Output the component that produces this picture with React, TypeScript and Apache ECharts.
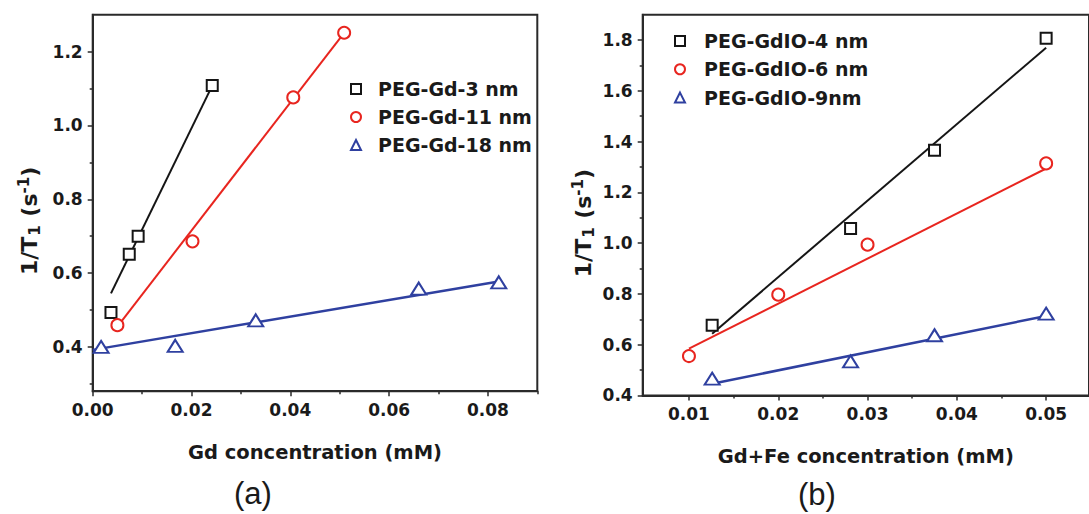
import React, { useEffect, useRef } from 'react';
import * as echarts from 'echarts';

// ---------- Panel (a) data ----------
const aNames = ['PEG-Gd-3 nm', 'PEG-Gd-11 nm', 'PEG-Gd-18 nm'];
const a3nmX = [0.0037, 0.0074, 0.0092, 0.0242];
const a3nmY = [0.493, 0.651, 0.7, 1.108];
const a11nmX = [0.005, 0.0202, 0.0406, 0.0509];
const a11nmY = [0.459, 0.686, 1.076, 1.251];
const a18nmX = [0.0017, 0.0167, 0.033, 0.066, 0.0822];
const a18nmY = [0.4, 0.403, 0.472, 0.558, 0.575];
const a3nmFitX = [0.0037, 0.0242];
const a3nmFitY = [0.545, 1.108];
const a11nmFitX = [0.005, 0.0509];
const a11nmFitY = [0.455, 1.251];
const a18nmFitX = [0.0, 0.0825];
const a18nmFitY = [0.392, 0.578];
const aXMajor = [0, 0.02, 0.04, 0.06, 0.08];
const aXMinor = [0.01, 0.03, 0.05, 0.07, 0.09];
const aYMajor = [0.4, 0.6, 0.8, 1.0, 1.2];
const aYMinor = [0.3, 0.5, 0.7, 0.9, 1.1];

// ---------- Panel (b) data ----------
const bNames = ['PEG-GdIO-4 nm', 'PEG-GdIO-6 nm', 'PEG-GdIO-9nm'];
const b4nmX = [0.0126, 0.0281, 0.0375, 0.05];
const b4nmY = [0.676, 1.058, 1.366, 1.807];
const b6nmX = [0.01, 0.02, 0.03, 0.05];
const b6nmY = [0.555, 0.797, 0.994, 1.314];
const b9nmX = [0.0126, 0.0281, 0.0375, 0.05];
const b9nmY = [0.466, 0.534, 0.637, 0.722];
const b4nmFitX = [0.0126, 0.05];
const b4nmFitY = [0.643, 1.77];
const b6nmFitX = [0.01, 0.05];
const b6nmFitY = [0.584, 1.294];
const b9nmFitX = [0.0126, 0.05];
const b9nmFitY = [0.446, 0.713];
const bXMajor = [0.01, 0.02, 0.03, 0.04, 0.05];
const bXMinor = [0.015, 0.025, 0.035, 0.045];
const bYMajor = [0.4, 0.6, 0.8, 1.0, 1.2, 1.4, 1.6, 1.8];
const bYMinor = [0.5, 0.7, 0.9, 1.1, 1.3, 1.5, 1.7];

const W = 1089;
const H = 514;
const FONT = 'DejaVu Sans';
const TXT = '#1a1a1a';
const AX = '#2a2a2a';
const BLACK = '#151515';
const RED = '#e8251f';
const BLUE = '#2f40a0';

const zip = (xs: number[], ys: number[]) => xs.map((x, i) => [x, ys[i]]);

const yName = '{n|1/T}{sub|1}{n| (s}{sup|-1}{n|)}';
const yNameStyle = {
  padding: [0, 36, 0, 0],
  rich: {
    n: { fontFamily: FONT, fontWeight: 'bold', fontSize: 22, color: TXT, lineHeight: 30, verticalAlign: 'middle' },
    sub: { fontFamily: FONT, fontWeight: 'bold', fontSize: 15, color: TXT, lineHeight: 30, verticalAlign: 'bottom', padding: [0, 1, 2, 1] },
    sup: { fontFamily: FONT, fontWeight: 'bold', fontSize: 15, color: TXT, lineHeight: 30, verticalAlign: 'top', padding: [2, 0, 0, 0] },
  },
};
const xNameStyle = { fontFamily: FONT, fontWeight: 'bold', fontSize: 19.5, color: TXT };
const labelStyle = { fontFamily: FONT, fontWeight: 'bold', fontSize: 17, color: TXT };

function majorAxis(grid: number, min: number, max: number, ticks: number[], digits: number, extra: any) {
  return {
    type: 'value',
    gridIndex: grid,
    min,
    max,
    axisLine: { show: true, onZero: false, lineStyle: { color: AX, width: 2 } },
    axisTick: { show: true, customValues: ticks, length: 5, lineStyle: { color: AX, width: 1.5 } },
    axisLabel: { show: true, customValues: ticks, formatter: (v: number) => v.toFixed(digits), margin: 10, ...labelStyle },
    splitLine: { show: false },
    nameLocation: 'middle',
    ...extra,
  };
}
function minorAxis(grid: number, min: number, max: number, ticks: number[], position: string) {
  return {
    type: 'value',
    gridIndex: grid,
    min,
    max,
    position,
    axisLine: { show: false, onZero: false },
    axisTick: { show: true, customValues: ticks, length: 3, lineStyle: { color: AX, width: 1.5 } },
    axisLabel: { show: false },
    splitLine: { show: false },
  };
}

function scatter(name: string, xi: number, yi: number, xs: number[], ys: number[], symbol: string, size: any, color: string) {
  return {
    type: 'scatter',
    name,
    xAxisIndex: xi,
    yAxisIndex: yi,
    data: zip(xs, ys),
    symbol,
    symbolSize: size,
    itemStyle: { color: '#ffffff', borderColor: color, borderWidth: 2, opacity: 1 },
    z: 4,
    silent: true,
  };
}
function fit(name: string, xi: number, yi: number, xs: number[], ys: number[], color: string, width: number) {
  return {
    type: 'line',
    name,
    xAxisIndex: xi,
    yAxisIndex: yi,
    data: zip(xs, ys),
    showSymbol: false,
    symbol: 'none',
    lineStyle: { color, width },
    z: 2,
    silent: true,
  };
}

const legendText = (pad: number) => ({ fontFamily: FONT, fontWeight: 'bold', fontSize: 19, color: TXT, lineHeight: 20, padding: [0, 0, 0, pad] });

function legendData(names: string[]) {
  return [
    { name: names[0], icon: 'rect', itemStyle: { color: '#fff', borderColor: BLACK, borderWidth: 2 } },
    { name: names[1], icon: 'circle', itemStyle: { color: '#fff', borderColor: RED, borderWidth: 2 } },
    { name: names[2], icon: 'triangle', itemStyle: { color: '#fff', borderColor: BLUE, borderWidth: 2 } },
  ];
}

const option: any = {
  animation: false,
  backgroundColor: '#ffffff',
  grid: [
    { left: 92.7, top: 14.7, width: 444.6, height: 376.5, show: true, borderColor: AX, borderWidth: 2, backgroundColor: 'transparent' },
    { left: 642.7, top: 14.7, width: 449, height: 380.7, show: true, borderColor: AX, borderWidth: 2, backgroundColor: 'transparent' },
  ],
  xAxis: [
    majorAxis(0, 0, 0.09, aXMajor, 2, { name: 'Gd concentration (mM)', nameGap: 51, nameTextStyle: xNameStyle }),
    minorAxis(0, 0, 0.09, aXMinor, 'bottom'),
    majorAxis(1, 0.00482, 0.0548, bXMajor, 2, { name: 'Gd+Fe concentration (mM)', nameGap: 51, nameTextStyle: xNameStyle }),
    minorAxis(1, 0.00482, 0.0548, bXMinor, 'bottom'),
  ],
  yAxis: [
    majorAxis(0, 0.28, 1.3, aYMajor, 1, { name: yName, nameGap: 48, nameTextStyle: yNameStyle }),
    minorAxis(0, 0.28, 1.3, aYMinor, 'left'),
    majorAxis(1, 0.4, 1.9, bYMajor, 1, { name: yName, nameGap: 40, nameTextStyle: yNameStyle }),
    minorAxis(1, 0.4, 1.9, bYMinor, 'left'),
  ],
  legend: [
    {
      data: legendData(aNames),
      orient: 'vertical',
      left: 350,
      top: 79,
      itemWidth: 10,
      itemHeight: 10,
      itemGap: 8,
      padding: 0,
      textStyle: legendText(12),
      selectedMode: false,
    },
    {
      data: legendData(bNames),
      orient: 'vertical',
      left: 674,
      top: 31,
      itemWidth: 10,
      itemHeight: 10,
      itemGap: 8.3,
      padding: 0,
      textStyle: legendText(14),
      selectedMode: false,
    },
  ],
  graphic: [
    { type: 'text', left: 234, top: 478, style: { text: '(a)', fontFamily: 'Liberation Sans', fontSize: 31, fill: TXT } },
    { type: 'text', left: 798, top: 479, style: { text: '(b)', fontFamily: 'Liberation Sans', fontSize: 31, fill: TXT } },
  ],
  series: [
    fit('fit-3nm', 0, 0, a3nmFitX, a3nmFitY, BLACK, 2),
    fit('fit-11nm', 0, 0, a11nmFitX, a11nmFitY, RED, 2),
    fit('fit-18nm', 0, 0, a18nmFitX, a18nmFitY, BLUE, 2.5),
    scatter(aNames[0], 0, 0, a3nmX, a3nmY, 'rect', 11, BLACK),
    scatter(aNames[1], 0, 0, a11nmX, a11nmY, 'circle', 12, RED),
    scatter(aNames[2], 0, 0, a18nmX, a18nmY, 'triangle', [15, 12], BLUE),
    fit('fit-4nm', 2, 2, b4nmFitX, b4nmFitY, BLACK, 2),
    fit('fit-6nm', 2, 2, b6nmFitX, b6nmFitY, RED, 2),
    fit('fit-9nm', 2, 2, b9nmFitX, b9nmFitY, BLUE, 2.5),
    scatter(bNames[0], 2, 2, b4nmX, b4nmY, 'rect', 11, BLACK),
    scatter(bNames[1], 2, 2, b6nmX, b6nmY, 'circle', 12, RED),
    scatter(bNames[2], 2, 2, b9nmX, b9nmY, 'triangle', [15, 12], BLUE),
  ],
};

export default function App() {
  const ref = useRef<HTMLDivElement>(null);
  useEffect(() => {
    document.body.style.margin = '0';
    const chart = echarts.init(ref.current as HTMLDivElement, null, { renderer: 'svg', width: W, height: H });
    chart.setOption(option);
    return () => chart.dispose();
  }, []);
  return <div ref={ref} style={{ width: W, height: H, overflow: 'hidden' }} />;
}
